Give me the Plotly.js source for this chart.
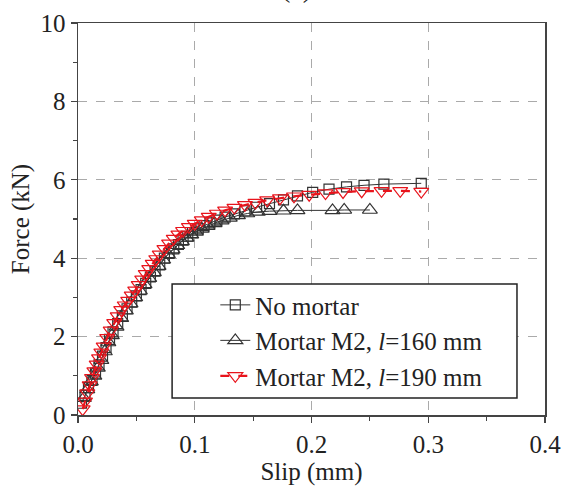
<!DOCTYPE html>
<html>
<head>
<meta charset="utf-8">
<script src="https://cdn.plot.ly/plotly-3.0.1.min.js"></script>
<style>html,body{margin:0;padding:0;background:#fff;}</style>
</head>
<body>
<div id="chart" style="width:564px;height:494px;"></div>
<script>
// Series: No mortar
const slipNoMortar = [0.003,0.006,0.009,0.012,0.015,0.018,0.021,0.024,0.027,0.030,0.034,0.038,0.042,0.046,0.050,0.054,0.058,0.062,0.066,0.070,0.074,0.078,0.082,0.086,0.090,0.094,0.098,0.103,0.108,0.113,0.119,0.126,0.134,0.143,0.153,0.164,0.176,0.188,0.201,0.215,0.230,0.245,0.262,0.294];
const forceNoMortar = [0.30,0.50,0.70,0.88,1.07,1.28,1.50,1.72,1.93,2.12,2.33,2.53,2.71,2.88,3.04,3.20,3.36,3.52,3.67,3.83,4.00,4.12,4.24,4.35,4.46,4.56,4.65,4.75,4.83,4.90,4.97,5.05,5.13,5.21,5.30,5.39,5.49,5.59,5.68,5.76,5.82,5.86,5.89,5.91];

// Series: Mortar M2, l=160 mm
const slipM2_160 = [0.005,0.008,0.011,0.014,0.017,0.020,0.023,0.026,0.029,0.033,0.037,0.041,0.045,0.049,0.053,0.057,0.061,0.065,0.069,0.073,0.077,0.081,0.085,0.089,0.093,0.097,0.101,0.106,0.111,0.117,0.123,0.130,0.137,0.145,0.154,0.164,0.176,0.188,0.218,0.228,0.250];
const forceM2_160 = [0.43,0.65,0.85,1.00,1.20,1.40,1.62,1.85,2.03,2.25,2.47,2.66,2.84,3.00,3.17,3.33,3.49,3.64,3.80,3.96,4.10,4.22,4.33,4.43,4.52,4.60,4.67,4.75,4.82,4.89,4.96,5.03,5.09,5.14,5.18,5.20,5.21,5.22,5.22,5.23,5.23];

// Series: Mortar M2, l=190 mm
const slipM2_190 = [0.004,0.006,0.008,0.010,0.012,0.014,0.016,0.018,0.020,0.022,0.025,0.028,0.031,0.034,0.037,0.040,0.043,0.046,0.049,0.052,0.055,0.058,0.061,0.064,0.067,0.070,0.074,0.078,0.082,0.086,0.090,0.095,0.100,0.106,0.112,0.119,0.126,0.134,0.143,0.152,0.162,0.173,0.185,0.198,0.212,0.227,0.243,0.260,0.276,0.294];
const forceM2_190 = [0.15,0.35,0.56,0.76,0.95,1.12,1.29,1.45,1.60,1.75,1.97,2.16,2.35,2.52,2.68,2.80,2.92,3.05,3.18,3.32,3.46,3.60,3.73,3.86,3.98,4.10,4.24,4.38,4.50,4.61,4.70,4.80,4.88,4.97,5.06,5.14,5.22,5.29,5.36,5.42,5.48,5.53,5.58,5.62,5.66,5.69,5.71,5.72,5.72,5.70];

const seriesNames = ["No mortar", "Mortar M2, <i>l</i>=160 mm", "Mortar M2, <i>l</i>=190 mm"];
const xTicks = [0.0, 0.1, 0.2, 0.3, 0.4];
const xTickText = ["0.0", "0.1", "0.2", "0.3", "0.4"];
const yTicks = [0, 2, 4, 6, 8, 10];

const serif = "Liberation Serif, Times New Roman, serif";
const ink = "#222222";

const traces = [
  {x: slipNoMortar, y: forceNoMortar, name: seriesNames[0], type: "scatter", mode: "lines+markers",
   line: {color: "#333333", width: 1},
   marker: {symbol: "square-open", size: 10, color: "#333333", line: {width: 1.2}}},
  {x: slipM2_160, y: forceM2_160, name: seriesNames[1], type: "scatter", mode: "lines+markers",
   line: {color: "#333333", width: 1},
   marker: {symbol: "triangle-up-open", size: 13, color: "#333333", line: {width: 1.2}}},
  {x: slipM2_190, y: forceM2_190, name: seriesNames[2], type: "scatter", mode: "lines+markers",
   line: {color: "#e8141c", width: 2.2, dash: "dash"},
   marker: {symbol: "triangle-down-open", size: 13, color: "#e8141c", line: {width: 1.2}}}
];

const layout = {
  width: 564, height: 494,
  margin: {l: 77.5, r: 19, t: 23, b: 79},
  paper_bgcolor: "#ffffff", plot_bgcolor: "#ffffff",
  showlegend: true,
  font: {family: serif, size: 25, color: ink},
  xaxis: {
    range: [0, 0.4], tickvals: xTicks, ticktext: xTickText,
    showline: true, mirror: true, linecolor: "#444444", linewidth: 1.5,
    ticks: "outside", ticklen: 6, tickwidth: 1.2, tickcolor: "#444444",
    minor: {dtick: 0.05, ticks: "outside", ticklen: 4, tickcolor: "#444444", showgrid: false},
    showgrid: true, gridcolor: "#aaaaaa", griddash: "dash", gridwidth: 1,
    zeroline: false,
    tickfont: {family: serif, size: 25, color: ink},
    title: {text: "Slip (mm)", font: {family: serif, size: 25, color: ink}, standoff: 3}
  },
  yaxis: {
    range: [0, 10], tickvals: yTicks,
    showline: true, mirror: true, linecolor: "#444444", linewidth: 1.5,
    ticks: "outside", ticklen: 6, tickwidth: 1.2, tickcolor: "#444444",
    minor: {dtick: 1, ticks: "outside", ticklen: 4, tickcolor: "#444444", showgrid: false},
    showgrid: true, gridcolor: "#aaaaaa", griddash: "dash", gridwidth: 1,
    zeroline: false,
    tickfont: {family: serif, size: 25, color: ink},
    title: {text: "Force (kN)", font: {family: serif, size: 25, color: ink}, standoff: 4}
  },
  legend: {
    x: 0.294, y: 0.339, xanchor: "left", yanchor: "top",
    bgcolor: "rgba(0,0,0,0)", borderwidth: 0,
    font: {family: serif, size: 25, color: ink},
    tracegroupgap: 0
  },
  shapes: [
    {type: "rect", xref: "paper", yref: "paper", x0: 0.2015, x1: 0.940, y0: 0.0434, y1: 0.334,
     fillcolor: "#ffffff", line: {color: ink, width: 1.5}, layer: "above"}
  ],
  annotations: [
    {text: "(a)", xref: "paper", yref: "paper", x: 0.467, y: 1.045, xanchor: "center", yanchor: "bottom",
     showarrow: false, font: {family: serif, size: 28, color: ink}}
  ]
};

Plotly.newPlot("chart", traces, layout, {displayModeBar: false, staticPlot: true});
</script>
</body>
</html>
